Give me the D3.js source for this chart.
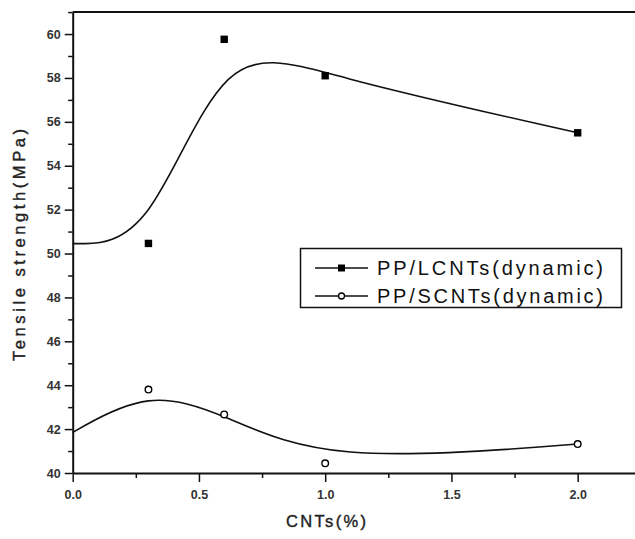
<!DOCTYPE html>
<html lang="en">

<head>
    <meta charset="UTF-8">
    <title>Tensile strength vs CNTs</title>
    <script src="https://d3js.org/d3.v7.min.js"></script>
    <style>
        body {
            margin: 0;
            background: #fff;
        }

        svg {
            display: block;
            font-family: "Liberation Sans", Arial, sans-serif;
        }

        .tick text {
            font-size: 12.5px;
            font-weight: bold;
            fill: #333;
        }

        .domain,
        .tick line {
            stroke: #111;
        }

        .title {
            font-size: 16.5px;
            fill: #222;
            stroke: #222;
            stroke-width: 0.4px;
        }
    </style>
</head>

<body>
    <svg></svg>
    <script>
        const width = 635;
        const height = 539;

        // CNT loading (%) and measured tensile strength (MPa)
        const cntLoading = [0, 0.3, 0.6, 1.0, 2.0];
        const lcntStrength = [50.45, 50.46, 59.76, 58.1, 55.5];
        const scntStrength = [41.85, 43.8, 42.67, 40.44, 41.32];
        const seriesNames = ["PP/LCNTs(dynamic)", "PP/SCNTs(dynamic)"];

        const xTicks = [0, 0.5, 1.0, 1.5, 2.0];
        const xMinorTicks = [0.25, 0.75, 1.25, 1.75];
        const yTicks = [40, 42, 44, 46, 48, 50, 52, 54, 56, 58, 60];
        const yMinorTicks = [41, 43, 45, 47, 49, 51, 53, 55, 57, 59, 61];

        const svg = d3.select("svg")
            .attr("width", width)
            .attr("height", height);

        const x = d3.scaleLinear().domain([0, 2.25]).range([72.7, 640.8]);
        const y = d3.scaleLinear().domain([40, 61]).range([473, 12.1]);

        // minor ticks first so the major axis line sits on top
        svg.append("g")
            .attr("transform", `translate(0,${y(40)})`)
            .call(d3.axisBottom(x).tickValues(xMinorTicks).tickSize(5).tickFormat(""))
            .call(g => g.select(".domain").remove())
            .selectAll("line").attr("stroke-width", 1.5);

        svg.append("g")
            .attr("transform", `translate(${x(0)},0)`)
            .call(d3.axisLeft(y).tickValues(yMinorTicks).tickSize(4.5).tickFormat(""))
            .call(g => g.select(".domain").remove())
            .selectAll("line").attr("stroke-width", 1.5);

        const xAxis = svg.append("g")
            .attr("transform", `translate(0,${y(40)})`)
            .call(d3.axisBottom(x).tickValues(xTicks).tickSize(9).tickSizeOuter(0).tickPadding(8)
                .tickFormat(d3.format(".1f")));
        xAxis.select(".domain").attr("stroke-width", 2);
        xAxis.selectAll(".tick line").attr("stroke-width", 1.5);

        const yAxis = svg.append("g")
            .attr("transform", `translate(${x(0)},0)`)
            .call(d3.axisLeft(y).tickValues(yTicks).tickSize(8).tickSizeOuter(0).tickPadding(4));
        yAxis.select(".domain").attr("stroke-width", 2);
        yAxis.selectAll(".tick line").attr("stroke-width", 1.5);

        // top frame
        svg.append("line")
            .attr("x1", x(0)).attr("x2", width)
            .attr("y1", y(61)).attr("y2", y(61))
            .attr("stroke", "#111")
            .attr("stroke-width", 2);

        // axis titles
        svg.append("text")
            .attr("class", "title")
            .attr("x", 326)
            .attr("y", 527)
            .attr("text-anchor", "middle")
            .attr("textLength", 80)
            .attr("lengthAdjust", "spacing")
            .text("CNTs(%)");

        svg.append("text")
            .attr("class", "title")
            .attr("transform", "translate(25,245) rotate(-90)")
            .attr("text-anchor", "middle")
            .attr("textLength", 232)
            .attr("lengthAdjust", "spacing")
            .text("Tensile strength(MPa)");

        // fitted curves (B-spline through the points)
        const lcnt = cntLoading.map((c, i) => [c, lcntStrength[i]]);
        const scnt = cntLoading.map((c, i) => [c, scntStrength[i]]);

        const line = d3.line()
            .x(d => x(d[0]))
            .y(d => y(d[1]))
            .curve(d3.curveBasis);

        [lcnt, scnt].forEach(data => {
            svg.append("path")
                .datum(data)
                .attr("fill", "none")
                .attr("stroke", "#111")
                .attr("stroke-width", 1.6)
                .attr("d", line);
        });

        // measured points (x = 0 marker sits under the axis)
        svg.append("g")
            .selectAll("rect")
            .data(lcnt.slice(1))
            .enter().append("rect")
            .attr("x", d => x(d[0]) - 3.7)
            .attr("y", d => y(d[1]) - 3.7)
            .attr("width", 7.4)
            .attr("height", 7.4)
            .attr("fill", "#000");

        svg.append("g")
            .selectAll("circle")
            .data(scnt.slice(1))
            .enter().append("circle")
            .attr("cx", d => x(d[0]))
            .attr("cy", d => y(d[1]))
            .attr("r", 3.3)
            .attr("fill", "#fff")
            .attr("stroke", "#000")
            .attr("stroke-width", 1.4);

        // legend
        const legend = svg.append("g");
        legend.append("rect")
            .attr("x", 300.5)
            .attr("y", 248.5)
            .attr("width", 321)
            .attr("height", 59)
            .attr("fill", "#fff")
            .attr("stroke", "#111")
            .attr("stroke-width", 1.5);

        const rows = [268, 296];
        seriesNames.forEach((name, i) => {
            const ly = rows[i];
            legend.append("line")
                .attr("x1", 315).attr("x2", 368)
                .attr("y1", ly).attr("y2", ly)
                .attr("stroke", "#111")
                .attr("stroke-width", 1.6);
            if (i === 0) {
                legend.append("rect")
                    .attr("x", 338).attr("y", ly - 3.5)
                    .attr("width", 7).attr("height", 7)
                    .attr("fill", "#000");
            } else {
                legend.append("circle")
                    .attr("cx", 341.5).attr("cy", ly)
                    .attr("r", 3)
                    .attr("fill", "#fff")
                    .attr("stroke", "#000")
                    .attr("stroke-width", 1.3);
            }
            legend.append("text")
                .attr("x", 377)
                .attr("y", ly + 7)
                .attr("font-size", 20)
                .attr("fill", "#111")
                .attr("textLength", 226)
                .attr("lengthAdjust", "spacing")
                .text(name);
        });
    </script>
</body>

</html>
